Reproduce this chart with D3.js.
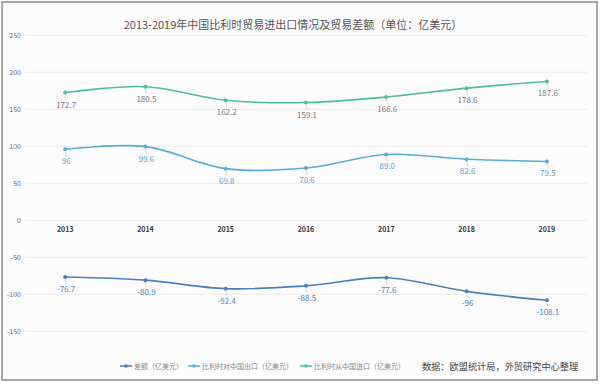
<!DOCTYPE html>
<html><head><meta charset="utf-8">
<script src="https://cdn.jsdelivr.net/npm/d3@7/dist/d3.min.js"></script>
<style>
html,body{margin:0;padding:0;background:#fff;}
text{font-family:"Noto Sans CJK SC","Noto Sans",sans-serif;}
</style></head>
<body><svg id="c" width="600" height="384"></svg>
<script>
const title = "2013-2019年中国比利时贸易进出口情况及贸易差额（单位：亿美元）";
const years = ["2013","2014","2015","2016","2017","2018","2019"];
const importVals = [172.7, 180.5, 162.2, 159.1, 166.6, 178.6, 187.6];
const exportVals = [96, 99.6, 69.8, 70.6, 89.0, 82.6, 79.5];
const diffVals = [-76.7, -80.9, -92.4, -88.5, -77.6, -96, -108.1];
const importLabels = ["172.7","180.5","162.2","159.1","166.6","178.6","187.6"];
const exportLabels = ["96","99.6","69.8","70.6","89.0","82.6","79.5"];
const diffLabels = ["-76.7","-80.9","-92.4","-88.5","-77.6","-96","-108.1"];
const yTicks = [-150, -100, -50, 0, 50, 100, 150, 200, 250];
const seriesNames = ["差额（亿美元）","比利时对中国出口（亿美元）","比利时从中国进口（亿美元）"];
const sourceText = "数据：欧盟统计局，外贸研究中心整理";

const colors = {diff:"#4b7fc0", exp:"#58acd6", imp:"#4cbf9c"};
const svg = d3.select("#c");

svg.append("rect").attr("x",0).attr("y",0).attr("width",600).attr("height",384).attr("fill","#fff");
svg.append("rect").attr("x",2).attr("y",2).attr("width",595).attr("height",378)
  .attr("fill","#fcfcfd").attr("stroke","#a8a8a8").attr("stroke-width",2);

const x = d3.scaleBand().domain(years).range([25,587]);
const y = d3.scaleLinear().domain([-150,250]).range([331.3,35.3]);
const cx = d => x(d) + x.bandwidth()/2;

// grid
svg.append("g").selectAll("line").data(yTicks).join("line")
  .attr("x1",25).attr("x2",587).attr("y1",d=>y(d)).attr("y2",d=>y(d))
  .attr("stroke","#ebebeb").attr("stroke-width",1);

// y axis labels
svg.append("g").selectAll("text").data(yTicks).join("text")
  .attr("x",21).attr("y",d=>y(d)+2.5).attr("text-anchor","end")
  .attr("font-size",7).attr("fill","#666").text(d=>d);

// x axis labels
svg.append("g").selectAll("text").data(years).join("text")
  .attr("x",d=>cx(d)).attr("y",231.5).attr("text-anchor","middle")
  .attr("font-size",7).attr("font-weight","bold").attr("fill","#333").text(d=>d);

// title
svg.append("text").attr("x",293).attr("y",29).attr("text-anchor","middle")
  .attr("font-size",11).attr("fill","#555").text(title);

const line = d3.line().x((d,i)=>cx(years[i])).y(d=>y(d)).curve(d3.curveCatmullRom.alpha(0.5));

function drawSeries(vals, labels, color, labelColor){
  const g = svg.append("g");
  g.append("path").datum(vals).attr("d",line).attr("fill","none")
    .attr("stroke",color).attr("stroke-width",1.6);
  g.selectAll("line.ll").data(vals).join("line").attr("class","ll")
    .attr("x1",(d,i)=>cx(years[i])).attr("y1",d=>y(d)+2)
    .attr("x2",(d,i)=>cx(years[i])+1).attr("y2",d=>y(d)+7)
    .attr("stroke","#bbb").attr("stroke-width",0.6);
  g.selectAll("circle").data(vals).join("circle")
    .attr("cx",(d,i)=>cx(years[i])).attr("cy",d=>y(d)).attr("r",2)
    .attr("fill",color);
  g.selectAll("text").data(vals).join("text")
    .attr("x",(d,i)=>cx(years[i])+1).attr("y",d=>y(d)+15)
    .attr("text-anchor","middle").attr("font-size",8).attr("fill",labelColor)
    .text((d,i)=>labels[i]);
}
drawSeries(importVals, importLabels, colors.imp, "#777");
drawSeries(exportVals, exportLabels, colors.exp, "#5aa3cc");
drawSeries(diffVals, diffLabels, colors.diff, "#4f7fb8");

// legend
const legendX = [120, 188, 300];
const legColors = [colors.diff, colors.exp, colors.imp];
const lg = svg.append("g");
seriesNames.forEach((n,i)=>{
  const lx = legendX[i];
  lg.append("line").attr("x1",lx).attr("x2",lx+12).attr("y1",366).attr("y2",366)
    .attr("stroke",legColors[i]).attr("stroke-width",1.5);
  lg.append("circle").attr("cx",lx+6).attr("cy",366).attr("r",1.8).attr("fill",legColors[i]);
  lg.append("text").attr("x",lx+14).attr("y",368.5).attr("font-size",7)
    .attr("fill","#888").text(n);
});
svg.append("text").attr("x",422).attr("y",369.5).attr("font-size",9.2)
  .attr("fill","#444").text(sourceText);
</script></body></html>
